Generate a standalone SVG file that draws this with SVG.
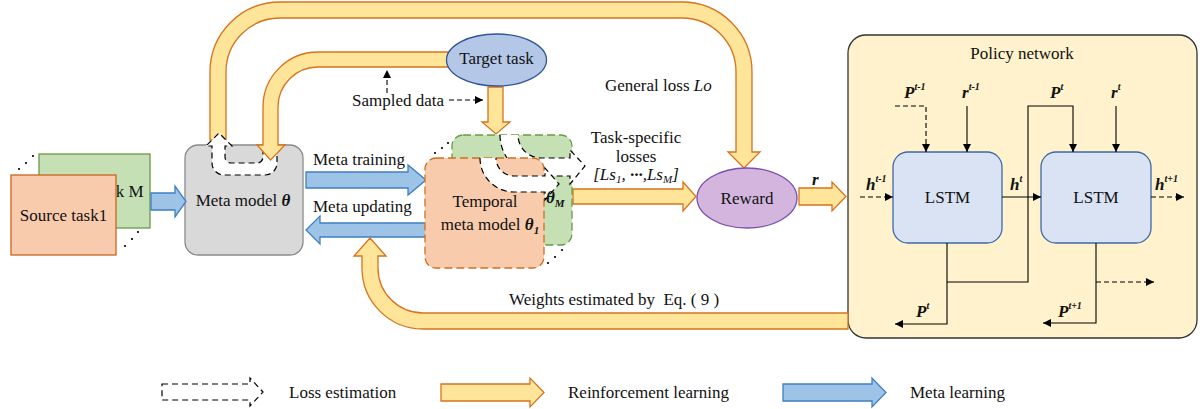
<svg xmlns="http://www.w3.org/2000/svg" width="1203" height="409" viewBox="0 0 1203 409">
<style>
text{font-family:"Liberation Serif","Times New Roman",serif;font-size:17px;fill:#111}
.c{text-anchor:middle}
.bi{font-weight:bold;font-style:italic}
.it{font-style:italic}
.sup{font-size:10px;font-weight:bold;font-style:italic}
.ya{fill:#ffe599;stroke:#d6731e;stroke-width:1.3}
.ba{fill:#9dc3e6;stroke:#3f7fc4;stroke-width:1.3}
.wd{fill:#fff;stroke:#000;stroke-width:1.2;stroke-dasharray:6,4}
.ln{fill:none;stroke:#000;stroke-width:1.1}
.dl{fill:none;stroke:#000;stroke-width:1.1;stroke-dasharray:5,3}
.dot{fill:#000}
</style>
<defs>
<marker id="ah" markerWidth="9" markerHeight="8" refX="8" refY="4" orient="auto" markerUnits="userSpaceOnUse">
<path d="M0,0 L8,4 L0,8 z" fill="#000"/>
</marker>
</defs>

<!-- Source tasks -->
<g id="source-task-M">
<rect x="39" y="154" width="111" height="74" fill="#c5e0b4" stroke="#6a9a45" stroke-width="1.3"/>
<text class="c" x="94.5" y="197">Source task M</text>
</g>
<g id="source-task-1">
<rect x="11" y="175" width="105" height="80" fill="#f8cbad" stroke="#c8661e" stroke-width="1.3"/>
<text class="c" x="63.5" y="221">Source task1</text>
<circle class="dot" cx="19" cy="169" r="1.1"/><circle class="dot" cx="26" cy="163" r="1.1"/><circle class="dot" cx="33" cy="156" r="1.1"/>
<circle class="dot" cx="125" cy="246" r="1.1"/><circle class="dot" cx="132" cy="239" r="1.1"/><circle class="dot" cx="138" cy="232" r="1.1"/>
</g>

<!-- Meta model -->
<g id="meta-model">
<rect x="185" y="145" width="118" height="110" rx="13" fill="#d9d9d9" stroke="#8a8a8a" stroke-width="1.3"/>
<text class="c" x="243" y="206">Meta model <tspan class="bi">θ</tspan></text>
</g>

<g id="connectors">
<!-- source -> meta model -->
<path class="ba" d="M151 193 L175 193 L175 186 L186 201.5 L175 217 L175 210 L151 210 Z"/>
<!-- general loss arrow -->
<path class="ya" d="M210 140 L210 72 A70 70 0 0 1 280 2 L682 2 A70 70 0 0 1 752 72 L752 152 L760 152 L744 168 L728 152 L736 152 L736 72 A54 54 0 0 0 682 18 L280 18 A54 54 0 0 0 226 72 L226 140 Z"/>
<!-- loss estimation u-turn in meta model -->
<path class="wd" d="M277 146 L277 163 A12 12 0 0 1 265 175 L224 175 A12 12 0 0 1 212 163 L212 146 L206 146 L219 133 L232 146 L225 146 L225 157 A6 6 0 0 0 231 163 L257 163 A6 6 0 0 0 263 157 L263 146 Z"/>
<!-- target task -> meta model -->
<path class="ya" d="M448 52 L318 52 A55 55 0 0 0 263 107 L263 145 L257 145 L270.5 160 L285 145 L278 145 L278 107 A40 40 0 0 1 318 67 L448 67 Z"/>
<!-- target task -> temporal -->
<path class="ya" d="M488 87 L503 87 L503 122 L510 122 L496 134 L482 122 L488 122 Z"/>
<!-- sampled data dashed arrows -->
<path class="dl" d="M387 93 L387 70" marker-end="url(#ah)"/>
<path class="dl" d="M449 100 L483 100" marker-end="url(#ah)"/>
<!-- meta training / updating -->
<path class="ba" d="M306 172 L408 172 L408 165 L426 180 L408 195 L408 188 L306 188 Z"/>
<path class="ba" d="M426 223 L320 223 L320 216 L306 230 L320 244 L320 237 L426 237 Z"/>
<!-- temporal -> reward -->
<path class="ya" d="M573 189 L683 189 L683 182 L696 196.5 L683 211 L683 204 L573 204 Z"/>
<!-- reward -> policy -->
<path class="ya" d="M799 188 L832 188 L832 182 L846 196.5 L832 211 L832 205 L799 205 Z"/>
</g>

<!-- Target task -->
<g id="target-task">
<ellipse cx="496.5" cy="60" rx="50" ry="26" fill="#b4c7e7" stroke="#2f5597" stroke-width="1.3"/>
<text class="c" x="496.5" y="64">Target task</text>
</g>

<!-- Temporal meta model -->
<g id="temporal-meta-model">
<rect x="452" y="135" width="120" height="110" rx="11" fill="#c5e0b4" stroke="#6a9a45" stroke-width="1.3" stroke-dasharray="8,4"/>
<path class="wd" d="M500 135 A41 41 0 0 0 541 176 L570 176 L570 184 L585 166 L570 150 L570 158 L541 158 A23 23 0 0 1 518 135"/>
<rect x="425" y="158" width="119" height="110" rx="11" fill="#f8cbad" stroke="#d0701f" stroke-width="1.3" stroke-dasharray="8,4"/>
<path class="wd" d="M480 158 A34 34 0 0 0 514 192 L545 192 L545 200 L559 184 L545 168 L545 176 L514 176 A18 18 0 0 1 496 158"/>
<text class="c" x="485" y="207">Temporal</text>
<text class="c" x="490" y="230">meta model <tspan class="bi">θ<tspan font-size="11" dy="4">1</tspan></tspan></text>
<text class="bi" x="546" y="203">θ<tspan font-size="11" dy="4">M</tspan></text>
<circle class="dot" cx="435" cy="153" r="1.1"/><circle class="dot" cx="442" cy="148" r="1.1"/><circle class="dot" cx="448" cy="143" r="1.1"/>
<circle class="dot" cx="548" cy="263" r="1.1"/><circle class="dot" cx="555" cy="257" r="1.1"/><circle class="dot" cx="562" cy="250" r="1.1"/>
</g>

<!-- Reward -->
<g id="reward">
<ellipse cx="747" cy="198" rx="50" ry="30" fill="#d3b5de" stroke="#7a4fb0" stroke-width="1.3"/>
<text class="c" x="747" y="204">Reward</text>
</g>

<!-- Policy network -->
<g id="policy-network">
<rect x="848" y="35" width="349" height="303" rx="18" fill="#fff2cc" stroke="#333" stroke-width="1.3"/>
<text class="c" x="1022" y="59">Policy network</text>
</g>
<g id="lstm-1">
<rect x="893" y="152" width="109" height="91" rx="15" fill="#dae3f3" stroke="#3e68a8" stroke-width="1.3"/>
<text class="c" x="947.5" y="203">LSTM</text>
</g>
<g id="lstm-2">
<rect x="1041" y="152" width="110" height="91" rx="15" fill="#dae3f3" stroke="#3e68a8" stroke-width="1.3"/>
<text class="c" x="1096" y="203">LSTM</text>
</g>
<g id="policy-connectors">
<path class="dl" d="M895 106 L926 106 L926 152" marker-end="url(#ah)"/>
<path class="ln" d="M967 106 L967 152" marker-end="url(#ah)"/>
<path class="ln" d="M947 282 L1028 282 L1028 106 L1073 106 L1073 152" marker-end="url(#ah)"/>
<path class="ln" d="M1116 106 L1116 152" marker-end="url(#ah)"/>
<path class="ln" d="M947 243 L947 324 L895 324" marker-end="url(#ah)"/>
<path class="ln" d="M1096 243 L1096 323 L1043 323" marker-end="url(#ah)"/>
<path class="dl" d="M1096 282 L1154 282" marker-end="url(#ah)"/>
<path class="dl" d="M860 197 L893 197" marker-end="url(#ah)"/>
<path class="ln" d="M1002 197 L1041 197" marker-end="url(#ah)"/>
<path class="dl" d="M1151 197 L1184 197" marker-end="url(#ah)"/>
</g>
<g id="policy-labels">
<text class="bi" x="904" y="98">P<tspan class="sup" dy="-8">t-1</tspan></text>
<text class="bi" x="962" y="98">r<tspan class="sup" dy="-8">t-1</tspan></text>
<text class="bi" x="1050" y="98">P<tspan class="sup" dy="-8">t</tspan></text>
<text class="bi" x="1111" y="98">r<tspan class="sup" dy="-8">t</tspan></text>
<text class="bi" x="866" y="190">h<tspan class="sup" dy="-8">t-1</tspan></text>
<text class="bi" x="1010" y="190">h<tspan class="sup" dy="-8">t</tspan></text>
<text class="bi" x="1155" y="190">h<tspan class="sup" dy="-8">t+1</tspan></text>
<text class="bi" x="916" y="317">P<tspan class="sup" dy="-8">t</tspan></text>
<text class="bi" x="1058" y="317">P<tspan class="sup" dy="-8">t+1</tspan></text>
</g>

<!-- weights feedback arrow -->
<g id="connectors-feedback">
<path class="ya" d="M848 313 L423 313 A45 45 0 0 1 378 268 L378 256 L386 256 L370 238 L354 256 L362 256 L362 268 A61 61 0 0 0 423 329 L848 329 Z"/>
</g>

<!-- labels -->
<g id="labels">
<text x="313" y="165">Meta training</text>
<text x="313" y="212">Meta updating</text>
<text x="352" y="106">Sampled data</text>
<text x="605" y="91">General loss <tspan class="it">Lo</tspan></text>
<text class="c" x="636" y="143">Task-specific</text>
<text class="c" x="636" y="162">losses</text>
<text class="c it" x="636" y="180">[Ls<tspan font-size="11" dy="3">1</tspan><tspan dy="-3">, </tspan><tspan font-weight="bold">···</tspan>,Ls<tspan font-size="11" dy="3">M</tspan><tspan dy="-3">]</tspan></text>
<text class="bi" x="812" y="185">r</text>
<text x="509" y="305" xml:space="preserve">Weights estimated by  Eq. ( 9 )</text>
</g>

<!-- legend -->
<g id="legend">
<path class="wd" d="M162 384 L250 384 L250 378 L263 392 L250 406 L250 400 L162 400 Z"/>
<text x="289" y="398">Loss estimation</text>
<path class="ya" d="M441 384 L530 384 L530 378 L544 392.5 L530 407 L530 401 L441 401 Z"/>
<text x="568" y="398">Reinforcement learning</text>
<path class="ba" d="M783 384 L872 384 L872 378 L886 392.5 L872 407 L872 401 L783 401 Z"/>
<text x="910" y="398">Meta learning</text>
</g>
</svg>
